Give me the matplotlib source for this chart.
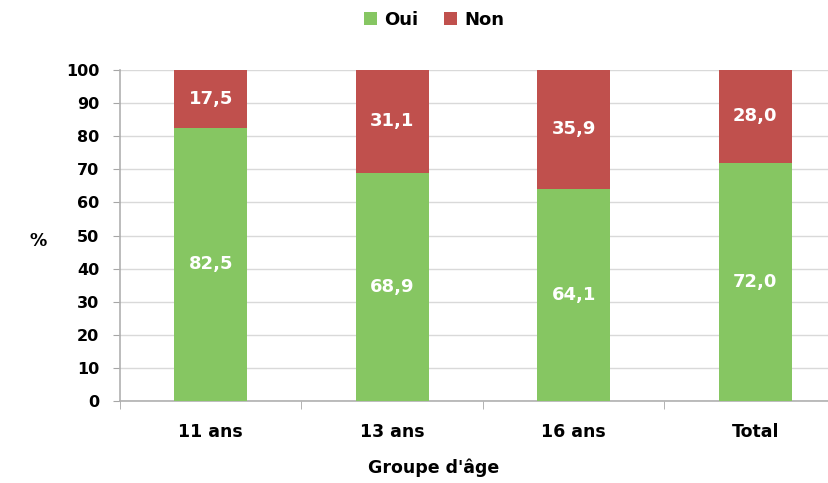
import matplotlib.pyplot as plt
import numpy as np

groups = ["11 ans", "13 ans", "16 ans", "Total"]
oui = [82.5, 68.9, 64.1, 72.0]
non = [17.5, 31.1, 35.9, 28.0]

plt.rcParams['font.family'] = ['DejaVu Sans']
plt.rcParams['font.weight'] = 'bold'

fig = plt.figure(figsize=(8.29, 4.83), dpi=100)
ax = fig.add_axes([120 / 829, 1 - 401 / 483, 726 / 829, 331 / 483])

x = np.arange(len(groups))
green = '#86C662'
red = '#C0504D'
b1 = ax.bar(x, oui, width=0.4, color=green, label='Oui', zorder=3)
b2 = ax.bar(x, non, width=0.4, bottom=oui, color=red, label='Non', zorder=3)

for i in range(len(groups)):
    ax.text(x[i], oui[i] / 2, f"{oui[i]:.1f}".replace('.', ','), ha='center', va='center',
            color='white', fontsize=13, fontweight='bold', zorder=4)
    ax.text(x[i], oui[i] + non[i] / 2, f"{non[i]:.1f}".replace('.', ','), ha='center', va='center',
            color='white', fontsize=13, fontweight='bold', zorder=4)

ax.set_xlim(-0.5, 3.5)
ax.set_ylim(0, 100)
ax.set_yticks(range(0, 101, 10))
ax.yaxis.grid(True, color='#d9d9d9', linewidth=1, zorder=0)
ax.set_xticks(x)
ax.set_xticklabels(groups)
ax.set_xticks([-0.5, 0.5, 1.5, 2.5], minor=True)
ax.tick_params(axis='x', which='major', length=0, pad=16, labelsize=12.5)
ax.tick_params(axis='x', which='minor', length=6, color='#a6a6a6', direction='out')
ax.tick_params(axis='y', length=5, color='#a6a6a6', labelsize=11.5, pad=10)
for s in ['top', 'right']:
    ax.spines[s].set_visible(False)
ax.spines['left'].set_color('#b0b0b0')
ax.spines['bottom'].set_color('#b0b0b0')
ax.spines['left'].set_linewidth(1.2)
ax.spines['bottom'].set_linewidth(1.2)

fig.text(38 / 829, 1 - 241 / 483, '%', ha='center', va='center', fontsize=12.5, fontweight='bold')
fig.text(434 / 829, 1 - 468 / 483, "Groupe d'âge", ha='center', va='center', fontsize=12.5, fontweight='bold')

fig.legend(handles=[b1, b2], loc='center', bbox_to_anchor=(434 / 829, 1 - 20 / 483), ncol=2,
           frameon=False, fontsize=13, handlelength=0.75, handleheight=0.75, handletextpad=0.4,
           columnspacing=1.4)

fig.savefig('out.png', dpi=100)
